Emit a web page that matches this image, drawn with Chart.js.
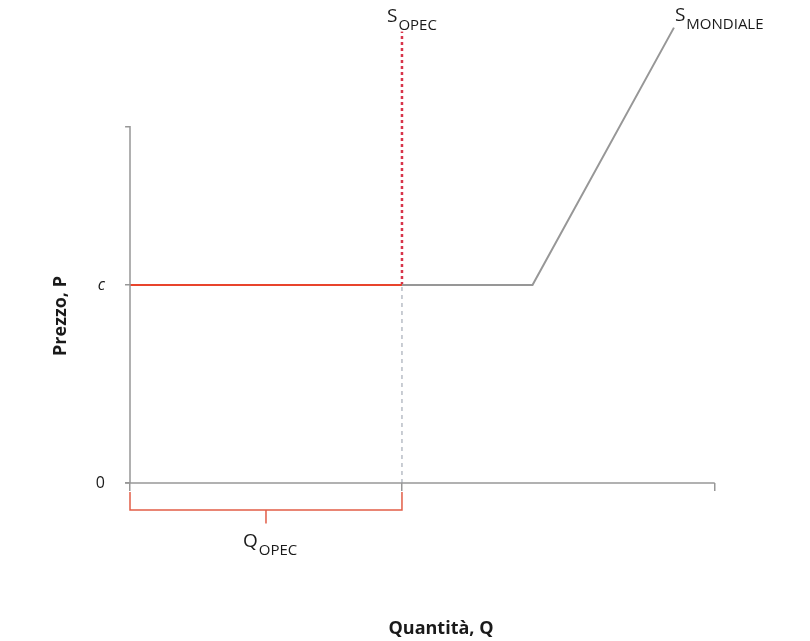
<!DOCTYPE html>
<html>
<head>
<meta charset="utf-8">
<script src="https://cdn.jsdelivr.net/npm/chart.js@4/dist/chart.umd.min.js"></script>
<style>
  html, body { margin: 0; padding: 0; background: #ffffff; }
  #wrap { width: 810px; height: 641px; }
</style>
</head>
<body>
<div id="wrap"><canvas id="c" width="810" height="641"></canvas></div>
<script>
// ---- data ----
const priceTickValues = [0, 10];
const priceTickLabels = ['0', 'c'];
const quantityTickValues = [0, 10, 21.5];

const opecPriceQ = [0, 10];          // red horizontal at cost c
const opecPriceP = [10, 10];

const opecSupplyQ = [10, 10];        // S OPEC (vertical, dotted)
const opecSupplyP = [10, 22.8];

const opecGuideQ = [10, 10];         // dashed guide down to the axis
const opecGuideP = [0, 10];

const worldSupplyQ = [10, 14.8, 20]; // S MONDIALE
const worldSupplyP = [10, 10, 23];

const axisQ = [-0.18, 21.5];         // horizontal axis extent
const axisP = [0, 18];               // vertical axis extent

const qOpec = 10;

const pts = (xs, ys) => xs.map((x, i) => ({ x: x, y: ys[i] }));

const GRAY = '#979797';
const RED = '#e8442c';
const DOT_RED = '#d8344a';
const BRACKET_RED = '#e25d47';
const FONT = "'Open Sans', 'Noto Sans', sans-serif";

const base = { showLine: true, pointRadius: 0, pointHoverRadius: 0, tension: 0, fill: false, clip: false };

const datasets = [
  Object.assign({}, base, { label: 'asse Q', data: pts(axisQ, [0, 0]), borderColor: GRAY, borderWidth: 1.5 }),
  Object.assign({}, base, { label: 'asse P', data: [{x: 0, y: axisP[0]}, {x: 0, y: axisP[1]}, {x: -0.18, y: axisP[1]}], borderColor: GRAY, borderWidth: 1.5 }),
  Object.assign({}, base, { label: 'guida', data: pts(opecGuideQ, opecGuideP), borderColor: '#949ca8', borderWidth: 1, borderDash: [4, 4] }),
  Object.assign({}, base, { label: 'S mondiale', data: pts(worldSupplyQ, worldSupplyP), borderColor: GRAY, borderWidth: 2 }),
  Object.assign({}, base, { label: 'prezzo OPEC', data: pts(opecPriceQ, opecPriceP), borderColor: RED, borderWidth: 2 }),
  Object.assign({}, base, { label: 'S OPEC', data: pts(opecSupplyQ, opecSupplyP), borderColor: DOT_RED, borderWidth: 2.5, borderDash: [3, 3] }),
  Object.assign({}, base, { label: 'Q OPEC', data: [{x: 0, y: -0.45}, {x: 0, y: -1.37}, {x: qOpec, y: -1.37}, {x: qOpec, y: -0.45}], borderColor: BRACKET_RED, borderWidth: 1.5 }),
  Object.assign({}, base, { label: 'Q OPEC tick', data: [{x: qOpec / 2, y: -1.37}, {x: qOpec / 2, y: -2.05}], borderColor: BRACKET_RED, borderWidth: 1.5 })
];

function drawSub(ctx, main, sub, x, y, mainSize, subSize, subDy) {
  ctx.save();
  ctx.fillStyle = '#1a1a1a';
  ctx.textBaseline = 'alphabetic';
  ctx.textAlign = 'left';
  ctx.font = mainSize + 'px ' + FONT;
  ctx.fillText(main, x, y);
  const w = ctx.measureText(main).width;
  ctx.font = subSize + 'px ' + FONT;
  ctx.fillText(sub, x + w + 1, y + subDy);
  ctx.restore();
}

const labelPlugin = {
  id: 'labels',
  afterDatasetsDraw(chart) {
    const ctx = chart.ctx;
    const xs = chart.scales.x, ys = chart.scales.y;
    const oTopX = xs.getPixelForValue(opecSupplyQ[1]);
    const oTopY = ys.getPixelForValue(opecSupplyP[1]);
    drawSub(ctx, 'S', 'OPEC', oTopX - 15, oTopY - 10, 19, 15, 8);
    const wTopX = xs.getPixelForValue(worldSupplyQ[2]);
    const wTopY = ys.getPixelForValue(worldSupplyP[2]);
    drawSub(ctx, 'S', 'MONDIALE', wTopX + 1, wTopY - 7, 19, 15, 8);
    const qx = xs.getPixelForValue(qOpec / 2);
    const qy = ys.getPixelForValue(0);
    drawSub(ctx, 'Q', 'OPEC', qx - 23, qy + 64, 19, 15, 8);
  }
};

new Chart(document.getElementById('c'), {
  type: 'scatter',
  data: { datasets: datasets },
  plugins: [labelPlugin],
  options: {
    responsive: false,
    animation: false,
    events: [],
    layout: { padding: { top: 149, right: 58, bottom: 0, left: 0 } },
    plugins: { legend: { display: false }, tooltip: { enabled: false } },
    scales: {
      x: {
        type: 'linear',
        position: 'bottom',
        min: 0,
        max: 22.87,
        afterBuildTicks: (s) => { s.ticks = quantityTickValues.map(v => ({ value: v })); },
        afterFit: (s) => { s.height = 158; },
        ticks: { callback: () => '', font: { size: 1 } },
        border: { display: false },
        grid: { drawOnChartArea: false, drawTicks: true, tickLength: 8, color: GRAY, lineWidth: 1.5 },
        title: { display: true, text: 'Quantità, Q', color: '#1a1a1a', font: { family: FONT, size: 18, weight: 'bold' }, padding: { top: 0, bottom: 1 } }
      },
      y: {
        type: 'linear',
        position: 'left',
        min: 0,
        max: 16.87,
        afterBuildTicks: (s) => { s.ticks = priceTickValues.map(v => ({ value: v })); },
        afterFit: (s) => { s.width = 130; },
        ticks: {
          padding: 20,
          color: '#1a1a1a',
          font: (c) => ({ family: FONT, size: 16, style: (c.tick && c.tick.value === priceTickValues[1]) ? 'italic' : 'normal' }),
          callback: (v) => { const i = priceTickValues.indexOf(v); return i >= 0 ? priceTickLabels[i] : ''; }
        },
        border: { display: false },
        grid: { drawOnChartArea: false, drawTicks: true, tickLength: 5, color: GRAY, lineWidth: 1.5 },
        title: { display: true, text: 'Prezzo, P', color: '#1a1a1a', font: { family: FONT, size: 18, weight: 'bold' }, padding: { top: 50, bottom: 0 } }
      }
    }
  }
});
</script>
</body>
</html>
